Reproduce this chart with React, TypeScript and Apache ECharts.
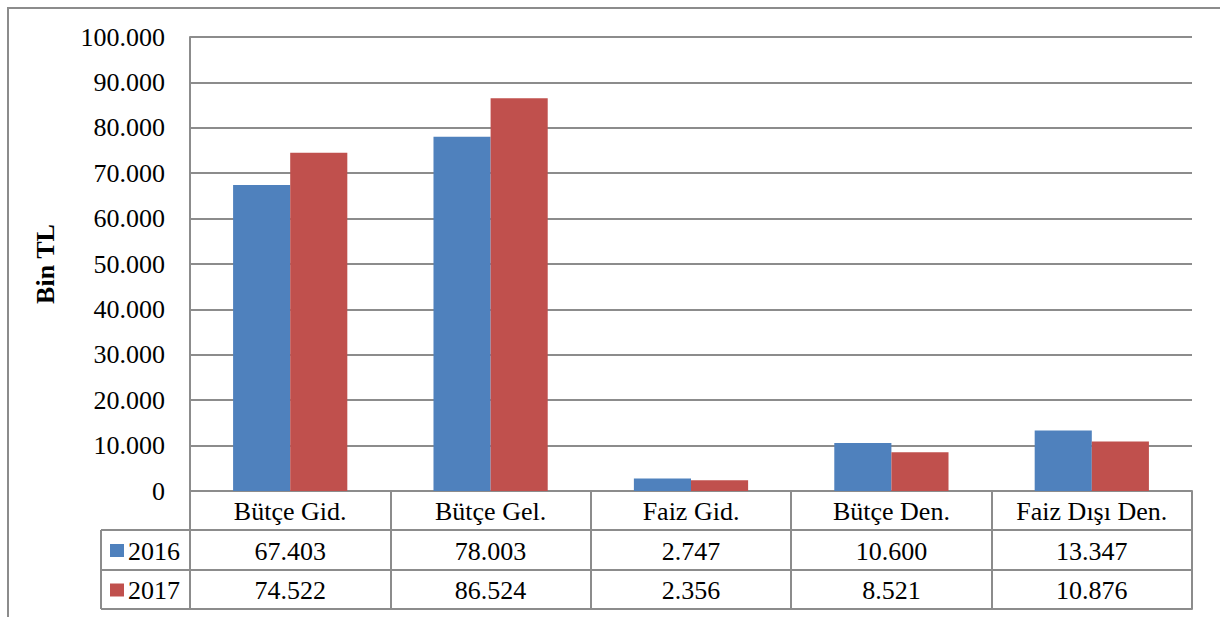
import React, { useEffect, useRef } from "react";
import * as echarts from "echarts";

const categories = ["Bütçe Gid.", "Bütçe Gel.", "Faiz Gid.", "Bütçe Den.", "Faiz Dışı Den."];
const seriesNames = ["2016", "2017"];
const values2016 = [67403, 78003, 2747, 10600, 13347];
const values2017 = [74522, 86524, 2356, 8521, 10876];
const yTickValues = [0, 10000, 20000, 30000, 40000, 50000, 60000, 70000, 80000, 90000, 100000];
const yAxisTitle = "Bin TL";

const BLUE = "#4F81BD";
const RED = "#C0504D";
const GRAY = "#8c8c8c";
const FONT = "Liberation Serif";
const FONT_CSS = "26px Liberation Serif";

const fmt = (n: number) => String(n).replace(/\B(?=(\d{3})+(?!\d))/g, ".");

const GL = 190, GT = 37, GR = 1192, GB = 491;
const ROW1 = 530, ROW2 = 570, ROW3 = 609;
const LEGL = 101;

export default function App() {
  const ref = useRef<HTMLDivElement>(null);
  useEffect(() => {
    if (!ref.current) return;
    const chart = echarts.init(ref.current, undefined, { renderer: "svg" });
    const tableAxis = (data: string[], offset: number, tickLen: number) => ({
      type: "category",
      data,
      position: "bottom",
      offset,
      boundaryGap: true,
      axisLine: { show: true, lineStyle: { color: GRAY, width: 2 } },
      axisTick: { show: tickLen > 0, length: tickLen, interval: 0, alignWithLabel: false, lineStyle: { color: GRAY, width: 2 } },
      axisLabel: { show: false },
      splitLine: { show: false },
    });
    chart.setOption({
      animation: false,
      backgroundColor: "#fff",
      grid: { left: GL, top: GT, right: 1220 - GR, bottom: 617 - GB, containLabel: false },
      xAxis: [
        tableAxis(categories, 0, ROW1 - GB),
        tableAxis(categories, ROW1 - GB, ROW2 - ROW1),
        tableAxis(categories, ROW2 - GB, ROW3 - ROW2),
        tableAxis(categories, ROW3 - GB, 0),
      ],
      yAxis: {
        type: "value",
        min: yTickValues[0],
        max: yTickValues[yTickValues.length - 1],
        interval: yTickValues[1] - yTickValues[0],
        name: yAxisTitle,
        nameLocation: "middle",
        nameGap: GL - 58,
        nameRotate: 90,
        nameTextStyle: { fontFamily: FONT, fontSize: 26, fontWeight: "bold", color: "#000" },
        axisLine: { show: true, lineStyle: { color: GRAY, width: 2 } },
        axisTick: { show: false },
        axisLabel: { show: false },
        splitLine: { show: true, lineStyle: { color: GRAY, width: 2 } },
      },
      series: [
        { name: seriesNames[0], type: "bar", data: values2016, itemStyle: { color: BLUE }, barGap: "0%", barCategoryGap: "43%" },
        { name: seriesNames[1], type: "bar", data: values2017, itemStyle: { color: RED }, barGap: "0%", barCategoryGap: "43%" },
      ],
    });

    const text = (s: string, x: number, y: number, align: string) => ({
      type: "text",
      x,
      y,
      silent: true,
      style: { text: s, font: FONT_CSS, fontFamily: FONT, fontSize: 26, fill: "#000", align, verticalAlign: "middle" },
    });
    const line = (x1: number, y1: number, x2: number, y2: number) => ({
      type: "line", silent: true, shape: { x1, y1, x2, y2 }, style: { stroke: GRAY, lineWidth: 2 },
    });

    const els: any[] = [
      { type: "rect", silent: true, shape: { x: 8, y: 8, width: 1400, height: 800 }, style: { fill: "none", stroke: GRAY, lineWidth: 2 } },
      line(LEGL, ROW1, GL, ROW1),
      line(LEGL, ROW2, GL, ROW2),
      line(LEGL, ROW3, GL, ROW3),
      line(LEGL, ROW1, LEGL, ROW3),
      line(GL, GB, GL, ROW3),
    ];
    yTickValues.forEach((v) => {
      const py = chart.convertToPixel({ yAxisIndex: 0 }, v) as number;
      els.push(text(fmt(v), 165, py, "right"));
    });
    categories.forEach((c, i) => {
      const px = chart.convertToPixel({ xAxisIndex: 0 }, c) as number;
      els.push(text(c, px, (GB + ROW1) / 2 + 1, "center"));
      els.push(text(fmt(values2016[i]), px, (ROW1 + ROW2) / 2 + 1, "center"));
      els.push(text(fmt(values2017[i]), px, (ROW2 + ROW3) / 2 + 1, "center"));
    });
    const legendRows = [
      { name: seriesNames[0], color: BLUE, y: (ROW1 + ROW2) / 2 },
      { name: seriesNames[1], color: RED, y: (ROW2 + ROW3) / 2 },
    ];
    legendRows.forEach((r) => {
      els.push({ type: "rect", silent: true, shape: { x: 110, y: r.y - 6, width: 14, height: 13 }, style: { fill: r.color } });
      els.push(text(r.name, 128, r.y + 1, "left"));
    });
    chart.setOption({ graphic: els });
    return () => chart.dispose();
  }, []);
  return <div ref={ref} style={{ position: "fixed", left: 0, top: 0, width: 1220, height: 617 }} />;
}
